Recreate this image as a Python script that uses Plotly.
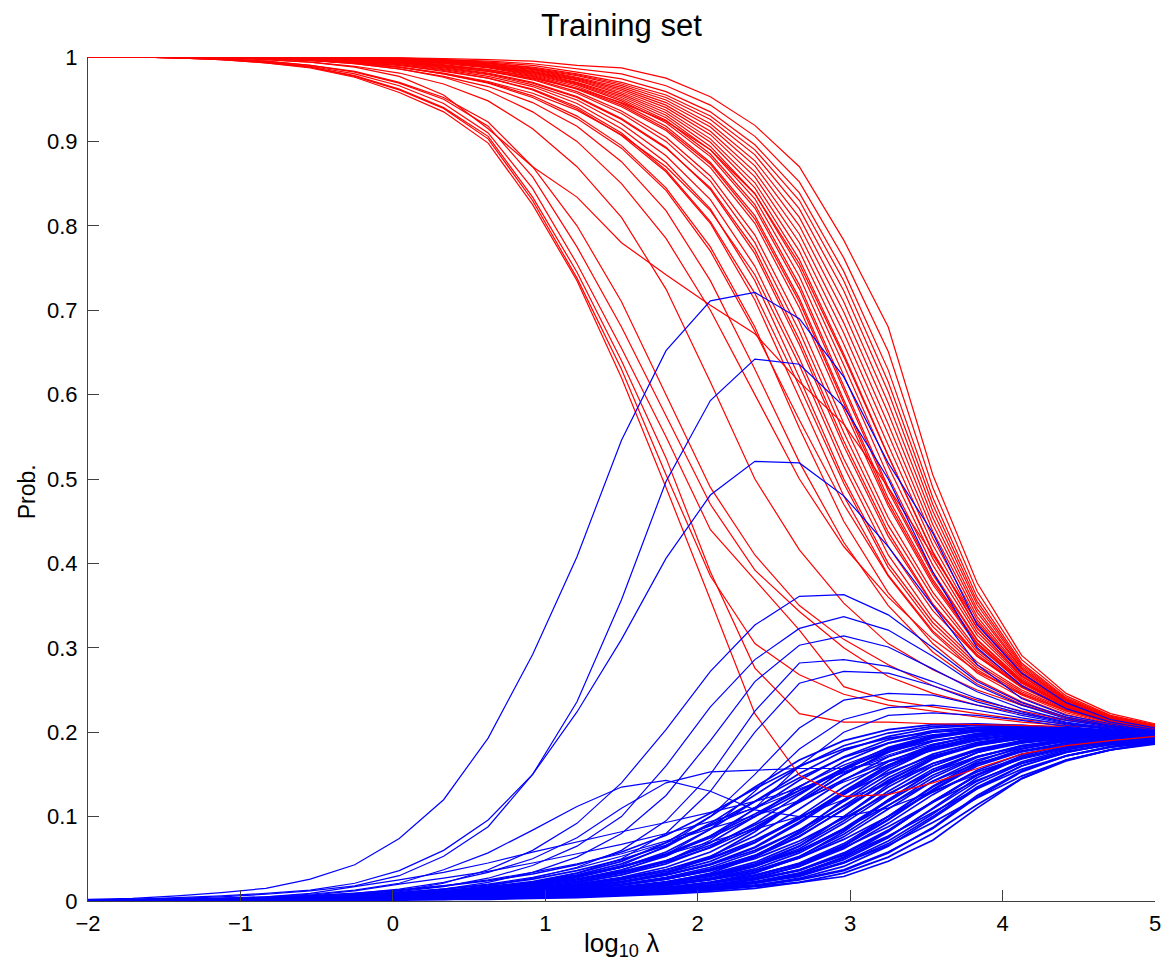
import plotly.graph_objects as go

# x grid: log10(lambda), 25 points from -2 to 5
x_vals = [-2.0, -1.708, -1.417, -1.125, -0.833, -0.542, -0.25, 0.042, 0.333, 0.625,
          0.917, 1.208, 1.5, 1.792, 2.083, 2.375, 2.667, 2.958, 3.25, 3.542,
          3.833, 4.125, 4.417, 4.708, 5.0]

x_ticks = [-2, -1, 0, 1, 2, 3, 4, 5]
x_ticktext = ["\u22122", "\u22121", "0", "1", "2", "3", "4", "5"]
y_ticks = [0, 0.1, 0.2, 0.3, 0.4, 0.5, 0.6, 0.7, 0.8, 0.9, 1]
y_ticktext = ["0", "0.1", "0.2", "0.3", "0.4", "0.5", "0.6", "0.7", "0.8", "0.9", "1"]

# ---- red: probability of the true class ----
red_early = [
    [1, 1, .999, .997, .993, .987, .976, .958, .935, .898, .825, .735, .62, .49, .357, .222, .149, .124, .126, .14, .157, .174, .184, .19, .195],
    [1, 1, .999, .997, .994, .988, .978, .962, .94, .906, .834, .745, .64, .525, .39, .276, .222, .212, .212, .21, .209, .208, .207, .206, .205],
    [1, 1, .999, .998, .994, .989, .98, .966, .945, .91, .844, .755, .655, .55, .44, .38, .321, .254, .238, .23, .222, .215, .21, .206, .204],
    [1, 1, .999, .998, .995, .99, .982, .969, .95, .918, .858, .775, .68, .575, .47, .392, .343, .3, .266, .246, .232, .222, .214, .208, .205],
    [1, 1, .999, .997, .993, .988, .977, .961, .939, .903, .83, .738, .63, .505, .385, .305, .268, .245, .232, .225, .218, .212, .208, .205, .203],
    [1, 1, .999, .998, .995, .99, .983, .97, .952, .923, .87, .8, .71, .6, .49, .41, .35, .31, .28, .255, .238, .225, .215, .209, .205],
]
red_mid = [
    [1, 1, 1, .999, .997, .994, .988, .977, .955, .915, .87, .834, .78, .742, .706, .672, .615, .565, .49, .41, .33, .27, .236, .216, .206],
    [1, 1, 1, .999, .997, .994, .989, .981, .968, .948, .915, .87, .81, .725, .615, .5, .416, .353, .305, .274, .25, .232, .218, .209, .204],
    [1, 1, 1, .999, .998, .996, .992, .986, .976, .96, .935, .9, .85, .785, .7, .6, .5, .42, .36, .31, .272, .245, .226, .213, .206],
    [1, 1, 1, .999, .998, .996, .992, .986, .977, .965, .946, .918, .876, .818, .735, .63, .52, .425, .35, .295, .257, .233, .217, .207, .202],
    [1, 1, 1, .999, .998, .996, .993, .988, .98, .97, .954, .93, .895, .845, .775, .68, .56, .45, .365, .305, .262, .236, .218, .208, .202],
    [1, 1, 1, .999, .998, .996, .993, .988, .98, .969, .952, .927, .892, .842, .77, .675, .57, .47, .385, .318, .27, .241, .221, .209, .203],
    [1, 1, 1, .999, .998, .997, .994, .99, .984, .975, .962, .941, .91, .866, .805, .72, .61, .495, .395, .325, .277, .246, .225, .211, .203],
    [1, 1, 1, .999, .998, .996, .993, .988, .981, .971, .957, .937, .908, .87, .818, .742, .635, .515, .41, .335, .283, .25, .227, .213, .204],
    [1, 1, 1, 1, .999, .998, .996, .992, .987, .98, .969, .952, .926, .892, .845, .772, .665, .545, .437, .352, .292, .254, .229, .213, .205],
    [1, 1, 1, 1, .999, .998, .997, .994, .99, .985, .977, .963, .943, .915, .873, .808, .71, .59, .472, .378, .305, .259, .231, .214, .205],
    [1, 1, 1, 1, .999, .998, .996, .993, .989, .983, .975, .963, .946, .924, .89, .838, .755, .645, .527, .413, .323, .267, .234, .215, .206],
]
red_bundle = [
    [1, 1, 1, .999, .998, .997, .994, .99, .983, .975, .961, .939, .907, .864, .803, .712, .596, .48, .386, .32, .274, .244, .223, .21, .203],
    [1, 1, 1, .999, .999, .997, .995, .991, .985, .977, .965, .945, .915, .875, .82, .735, .62, .5, .4, .33, .28, .248, .226, .212, .204],
    [1, 1, 1, .999, .999, .998, .995, .992, .986, .979, .967, .949, .921, .883, .831, .752, .643, .524, .42, .344, .29, .254, .23, .215, .206],
    [1, 1, 1, 1, .999, .998, .996, .993, .988, .981, .97, .953, .927, .893, .843, .767, .659, .539, .432, .351, .29, .253, .228, .213, .204],
    [1, 1, 1, 1, .999, .998, .997, .994, .989, .983, .973, .957, .933, .9, .853, .78, .675, .555, .445, .36, .295, .255, .229, .213, .205],
    [1, 1, 1, 1, .999, .998, .997, .995, .99, .984, .974, .959, .936, .905, .859, .789, .686, .566, .454, .366, .298, .256, .23, .213, .205],
    [1, 1, 1, 1, .999, .999, .997, .995, .991, .985, .976, .962, .941, .913, .869, .803, .703, .583, .468, .375, .303, .258, .231, .214, .205],
    [1, 1, 1, 1, .999, .999, .998, .995, .992, .987, .978, .965, .945, .918, .875, .812, .714, .594, .477, .381, .306, .26, .231, .214, .205],
    [1, 1, 1, 1, .999, .999, .998, .996, .993, .988, .979, .967, .948, .922, .882, .821, .725, .605, .486, .387, .309, .261, .232, .214, .205],
    [1, 1, 1, 1, .999, .999, .998, .996, .993, .988, .98, .968, .95, .925, .885, .825, .73, .61, .49, .39, .31, .262, .232, .214, .205],
    [1, 1, 1, 1, 1, .999, .998, .996, .993, .989, .981, .969, .952, .928, .89, .832, .74, .623, .503, .398, .315, .264, .233, .214, .205],
    [1, 1, 1, 1, 1, .999, .998, .997, .994, .989, .982, .97, .954, .931, .894, .838, .75, .635, .515, .406, .319, .266, .234, .215, .205],
    [1, 1, 1, 1, 1, .999, .998, .997, .994, .99, .982, .972, .956, .934, .899, .845, .76, .648, .528, .414, .324, .267, .234, .215, .206],
    [1, 1, 1, 1, 1, .999, .998, .997, .994, .99, .983, .973, .958, .937, .903, .851, .77, .66, .54, .422, .328, .269, .235, .216, .206],
    [1, 1, 1, 1, 1, .999, .998, .997, .995, .99, .984, .974, .96, .94, .908, .858, .78, .673, .553, .43, .333, .271, .236, .216, .206],
    [1, 1, 1, 1, 1, .999, .999, .997, .995, .991, .985, .975, .962, .943, .912, .864, .79, .685, .565, .438, .337, .273, .237, .216, .206],
    [1, 1, 1, 1, 1, .999, .999, .997, .995, .992, .986, .976, .964, .946, .917, .871, .8, .698, .578, .446, .342, .275, .238, .217, .206],
    [1, 1, 1, 1, 1, .999, .999, .998, .996, .992, .986, .978, .966, .949, .921, .877, .81, .71, .59, .454, .346, .276, .238, .217, .207],
    [1, 1, 1, 1, 1, .999, .999, .998, .996, .993, .987, .979, .968, .952, .926, .884, .82, .723, .603, .462, .351, .278, .239, .218, .207],
    [1, 1, 1, 1, 1, .999, .999, .998, .996, .993, .988, .98, .97, .955, .93, .89, .83, .735, .615, .47, .355, .28, .24, .218, .207],
    [1, 1, 1, 1, 1, 1, .999, .998, .997, .994, .99, .982, .974, .959, .935, .896, .839, .746, .629, .478, .36, .282, .241, .219, .208],
    [1, 1, 1, 1, 1, 1, .999, .999, .997, .995, .992, .986, .98, .966, .943, .906, .852, .762, .651, .49, .367, .286, .243, .22, .209],
    [1, 1, 1, 1, 1, 1, .999, .999, .998, .997, .995, .99, .987, .975, .953, .919, .87, .783, .68, .505, .377, .291, .246, .222, .21],
]

# ---- blue: probabilities of the other classes ----
blue_peaks = [
    [.002, .003, .006, .01, .015, .026, .043, .074, .12, .193, .292, .408, .546, .652, .711, .721, .69, .621, .519, .436, .327, .27, .235, .215, .205],
    [.001, .002, .004, .006, .009, .013, .021, .036, .06, .096, .15, .236, .357, .497, .593, .642, .636, .586, .5, .39, .3, .255, .228, .212, .203],
    [.001, .002, .003, .005, .008, .012, .018, .03, .053, .088, .15, .224, .31, .406, .481, .521, .519, .48, .42, .35, .28, .24, .22, .21, .2],
]
blue_mid = [
    [0, .001, .001, .002, .003, .005, .008, .012, .021, .037, .06, .092, .14, .203, .272, .327, .361, .363, .339, .3, .26, .235, .218, .208, .202],
    [0, .001, .001, .002, .003, .005, .007, .011, .017, .027, .042, .065, .1, .16, .23, .286, .323, .337, .321, .29, .255, .232, .216, .207, .201],
    [0, .001, .001, .002, .003, .004, .006, .009, .014, .022, .034, .052, .08, .125, .19, .26, .303, .314, .301, .275, .248, .228, .214, .206, .201],
    [0, .001, .001, .002, .002, .004, .006, .008, .012, .018, .027, .04, .06, .095, .15, .225, .282, .286, .278, .26, .24, .224, .212, .205, .2],
    [0, 0, .001, .002, .002, .003, .005, .007, .01, .015, .022, .033, .05, .08, .13, .2, .258, .272, .27, .255, .236, .222, .211, .204, .2],
    [0, 0, .001, .001, .002, .003, .004, .006, .009, .013, .019, .028, .042, .065, .1, .15, .205, .238, .246, .244, .232, .22, .21, .204, .2],
    [0, 0, .001, .001, .002, .003, .004, .005, .008, .011, .016, .024, .036, .055, .085, .13, .18, .215, .229, .232, .226, .217, .209, .203, .199],
    [0, 0, .001, .001, .002, .002, .003, .005, .007, .01, .014, .021, .031, .047, .072, .11, .16, .2, .22, .223, .22, .214, .207, .202, .198],
    [0, .001, .002, .003, .005, .008, .013, .021, .037, .057, .084, .112, .135, .143, .13, .108, .1, .1, .11, .13, .15, .168, .18, .188, .192],
    [0, .001, .002, .003, .004, .006, .009, .014, .022, .034, .05, .075, .11, .14, .153, .155, .157, .157, .165, .178, .19, .196, .198, .198, .197],
]
blue_shallow = [
    [0, .001, .002, .003, .005, .009, .017, .025, .034, .045, .058, .07, .082, .093, .105, .118, .133, .152, .171, .186, .196, .2, .2, .198, .196],
    [0, .001, .002, .003, .004, .007, .012, .02, .027, .035, .045, .056, .067, .08, .094, .11, .131, .153, .173, .189, .199, .203, .203, .2, .197],
    [0, .001, .001, .002, .003, .005, .008, .013, .018, .025, .034, .044, .056, .071, .089, .111, .136, .161, .181, .195, .203, .205, .204, .201, .198],
    [0, .001, .001, .002, .003, .004, .006, .01, .014, .02, .028, .039, .053, .069, .086, .101, .119, .141, .161, .179, .191, .198, .2, .199, .197],
    [0, 0, .001, .002, .003, .004, .005, .007, .01, .014, .02, .028, .04, .055, .07, .085, .1, .12, .14, .16, .178, .19, .196, .198, .197],
]
blue_bundle = [
    [0, .001, .001, .002, .003, .004, .006, .009, .012, .017, .023, .033, .047, .069, .1, .135, .167, .19, .203, .209, .21, .208, .205, .202, .198],
    [0, .001, .001, .002, .003, .004, .006, .009, .011, .016, .022, .031, .044, .064, .092, .126, .159, .184, .199, .207, .209, .208, .205, .202, .198],
    [0, .001, .001, .002, .003, .004, .006, .008, .011, .015, .02, .028, .04, .058, .085, .118, .151, .178, .195, .205, .208, .207, .205, .202, .198],
    [0, .001, .001, .002, .002, .003, .005, .008, .01, .013, .019, .026, .037, .053, .077, .109, .143, .171, .191, .202, .206, .207, .204, .201, .198],
    [0, .001, .001, .002, .002, .003, .005, .007, .009, .012, .017, .023, .033, .047, .069, .1, .135, .165, .187, .2, .205, .206, .204, .201, .198],
    [0, .001, .001, .002, .002, .003, .005, .007, .009, .011, .016, .022, .031, .044, .064, .092, .126, .158, .182, .196, .203, .205, .203, .201, .198],
    [0, .001, .001, .002, .002, .003, .004, .006, .008, .011, .015, .02, .028, .04, .058, .085, .118, .15, .176, .193, .201, .203, .202, .2, .198],
    [0, 0, .001, .001, .002, .002, .004, .006, .008, .01, .013, .019, .026, .037, .053, .077, .109, .143, .171, .189, .198, .202, .201, .2, .197],
    [0, 0, .001, .001, .002, .002, .003, .005, .007, .009, .012, .017, .023, .033, .047, .069, .1, .135, .165, .185, .196, .2, .2, .199, .197],
    [0, 0, .001, .001, .002, .002, .003, .005, .007, .009, .011, .016, .022, .031, .043, .063, .092, .126, .158, .18, .192, .198, .199, .198, .197],
    [0, 0, .001, .001, .002, .002, .003, .005, .006, .008, .011, .015, .02, .028, .04, .058, .084, .118, .15, .174, .188, .195, .198, .198, .197],
    [0, 0, .001, .001, .001, .002, .003, .004, .006, .008, .01, .013, .019, .026, .036, .052, .076, .109, .143, .169, .184, .193, .196, .197, .196],
    [0, 0, .001, .001, .001, .002, .003, .004, .005, .007, .009, .012, .017, .023, .032, .046, .068, .1, .135, .163, .18, .19, .195, .196, .196],
    [0, 0, .001, .001, .001, .002, .003, .004, .005, .007, .009, .011, .016, .021, .03, .042, .062, .092, .126, .156, .176, .187, .193, .195, .196],
    [0, 0, .001, .001, .001, .002, .003, .004, .005, .006, .008, .011, .015, .02, .027, .038, .057, .084, .118, .149, .171, .184, .191, .194, .195],
    [0, 0, .001, .001, .001, .002, .002, .003, .004, .006, .008, .01, .013, .018, .025, .034, .051, .076, .109, .142, .167, .181, .189, .193, .195],
    [0, 0, .001, .001, .001, .002, .002, .003, .004, .005, .007, .009, .012, .016, .022, .03, .045, .068, .1, .135, .162, .178, .187, .192, .194],
    [0, 0, .001, .001, .001, .002, .002, .003, .004, .005, .007, .009, .011, .015, .021, .028, .041, .062, .092, .126, .155, .174, .184, .191, .193],
    [0, 0, .001, .001, .001, .002, .002, .003, .004, .005, .006, .008, .011, .014, .019, .026, .037, .057, .084, .118, .149, .169, .182, .189, .193],
    [0, 0, 0, .001, .001, .001, .002, .002, .003, .004, .006, .008, .01, .013, .018, .023, .033, .051, .076, .109, .142, .165, .179, .188, .192],
    [0, 0, 0, .001, .001, .001, .002, .002, .003, .004, .005, .007, .009, .012, .016, .021, .029, .045, .068, .1, .135, .16, .176, .186, .191],
    [0, 0, 0, .001, .001, .001, .002, .002, .003, .004, .005, .007, .009, .011, .015, .019, .026, .037, .058, .086, .123, .153, .172, .183, .19],
    [0, 0, 0, .001, .001, .001, .002, .002, .003, .004, .005, .006, .008, .01, .013, .017, .022, .029, .047, .072, .11, .145, .167, .179, .188],
]
blue_bundle_flat = [
    [0, .001, .002, .003, .004, .006, .009, .013, .018, .024, .032, .043, .058, .078, .104, .133, .16, .18, .193, .2, .203, .203, .201, .199, .196],
    [0, .001, .001, .002, .003, .005, .007, .01, .014, .019, .026, .036, .049, .066, .09, .118, .146, .17, .187, .197, .201, .202, .201, .199, .196],
    [0, .001, .001, .002, .003, .004, .006, .009, .012, .016, .022, .03, .041, .056, .077, .103, .131, .157, .177, .19, .197, .2, .2, .198, .196],
    [0, .001, .001, .002, .003, .004, .005, .008, .01, .014, .019, .026, .035, .048, .066, .09, .117, .144, .166, .182, .192, .197, .198, .197, .195],
    [0, 0, .001, .001, .002, .003, .004, .006, .008, .011, .015, .02, .027, .037, .051, .072, .098, .127, .152, .172, .185, .192, .195, .195, .194],
    [0, 0, .001, .001, .002, .002, .003, .005, .007, .009, .012, .017, .023, .031, .043, .06, .084, .112, .14, .163, .178, .188, .192, .193, .193],
    [0, 0, .001, .001, .001, .002, .003, .004, .006, .008, .011, .014, .019, .026, .036, .05, .071, .098, .127, .153, .171, .183, .189, .191, .192],
    [0, 0, .001, .001, .001, .002, .003, .004, .005, .007, .009, .012, .016, .022, .03, .042, .06, .085, .114, .142, .163, .177, .185, .189, .191],
    [0, 0, .001, .001, .001, .002, .002, .003, .004, .006, .008, .01, .014, .019, .026, .036, .051, .073, .1, .129, .153, .17, .181, .187, .19],
    [0, 0, 0, .001, .001, .001, .002, .003, .004, .005, .007, .009, .012, .016, .022, .031, .044, .063, .088, .117, .143, .163, .177, .185, .189],
    [0, 0, 0, .001, .001, .001, .002, .002, .003, .004, .006, .008, .01, .014, .019, .026, .037, .054, .077, .105, .133, .156, .172, .182, .188],
    [0, 0, 0, .001, .001, .001, .002, .002, .003, .004, .005, .007, .009, .012, .016, .022, .031, .045, .066, .093, .122, .148, .167, .179, .186],
]
blue_bundle_steep = [
    [0, 0, .001, .001, .002, .002, .003, .004, .006, .008, .011, .015, .022, .033, .052, .082, .12, .155, .18, .195, .203, .206, .205, .202, .199],
    [0, 0, 0, .001, .001, .002, .002, .003, .004, .006, .008, .011, .015, .022, .033, .052, .082, .12, .155, .18, .195, .202, .203, .201, .198],
    [0, 0, 0, .001, .001, .001, .002, .003, .004, .005, .007, .009, .013, .018, .027, .041, .065, .1, .138, .168, .187, .197, .2, .199, .197],
    [0, 0, 0, .001, .001, .001, .002, .002, .003, .004, .006, .008, .011, .015, .022, .033, .052, .082, .12, .153, .176, .19, .196, .197, .196],
    [0, 0, 0, .001, .001, .001, .002, .002, .003, .004, .005, .007, .009, .013, .018, .027, .041, .065, .1, .136, .165, .183, .192, .195, .195],
    [0, 0, 0, 0, .001, .001, .001, .002, .002, .003, .004, .006, .008, .011, .015, .022, .033, .052, .082, .118, .15, .172, .185, .191, .193],
    [0, 0, 0, 0, .001, .001, .001, .002, .002, .003, .004, .005, .007, .009, .013, .018, .027, .041, .065, .098, .133, .16, .176, .186, .19],
    [0, 0, 0, 0, .001, .001, .001, .001, .002, .002, .003, .004, .006, .008, .011, .015, .022, .033, .052, .08, .114, .145, .166, .179, .187],
]
blue_bundle_extra = [
    [0, 0, .001, .001, .002, .002, .003, .005, .007, .009, .012, .016, .022, .031, .044, .064, .094, .128, .16, .182, .194, .199, .2, .199, .197],
    [0, 0, .001, .001, .001, .002, .003, .004, .006, .008, .01, .014, .019, .026, .037, .054, .08, .113, .146, .171, .186, .194, .197, .197, .196],
    [0, 0, .001, .001, .001, .002, .003, .004, .005, .007, .009, .012, .016, .022, .031, .044, .065, .095, .13, .16, .179, .189, .194, .195, .195],
    [0, 0, .001, .001, .001, .002, .002, .003, .004, .006, .008, .01, .014, .019, .026, .036, .053, .079, .113, .146, .17, .184, .191, .194, .194],
    [0, 0, .001, .001, .001, .001, .002, .003, .004, .005, .007, .009, .012, .016, .022, .03, .043, .065, .096, .131, .16, .177, .187, .191, .193],
    [0, 0, 0, .001, .001, .001, .002, .002, .003, .004, .006, .008, .01, .013, .018, .025, .036, .055, .083, .117, .149, .17, .182, .189, .192],
    [0, 0, 0, .001, .001, .001, .002, .002, .003, .004, .005, .007, .009, .012, .016, .021, .03, .046, .071, .103, .139, .163, .177, .186, .19],
    [0, 0, 0, .001, .001, .001, .001, .002, .003, .003, .004, .006, .008, .01, .014, .018, .025, .036, .057, .087, .125, .154, .172, .183, .189],
    [0, .001, .001, .002, .002, .003, .005, .007, .01, .013, .018, .025, .034, .046, .063, .087, .118, .15, .177, .194, .203, .205, .204, .201, .198],
    [0, .001, .001, .002, .003, .004, .006, .008, .011, .015, .021, .029, .04, .055, .075, .1, .128, .156, .179, .194, .202, .205, .204, .201, .198],
    [0, 0, .001, .001, .002, .002, .004, .005, .007, .01, .013, .018, .025, .035, .05, .07, .097, .13, .161, .184, .197, .203, .203, .201, .198],
    [0, 0, .001, .001, .001, .002, .003, .004, .006, .008, .01, .014, .019, .027, .038, .054, .077, .108, .142, .169, .186, .196, .199, .199, .197],
    [0, 0, .001, .001, .001, .002, .002, .003, .005, .006, .008, .011, .015, .021, .029, .041, .059, .086, .12, .153, .176, .19, .196, .197, .196],
    [0, 0, 0, .001, .001, .001, .002, .003, .004, .005, .006, .008, .011, .015, .021, .03, .044, .066, .097, .132, .162, .18, .19, .194, .194],
    [0, 0, 0, .001, .001, .001, .002, .002, .003, .004, .005, .007, .009, .012, .016, .022, .032, .049, .075, .11, .146, .17, .183, .19, .192],
]

RED = "#ff0000"
BLUE = "#0000ff"

fig = go.Figure()


def add_lines(rows, color, width):
    for row in rows:
        fig.add_trace(go.Scatter(x=x_vals, y=row, mode="lines",
                                 line=dict(color=color, width=width),
                                 hoverinfo="skip", showlegend=False))


add_lines(blue_bundle, BLUE, 1.7)
add_lines(blue_bundle_flat, BLUE, 1.7)
add_lines(blue_bundle_steep, BLUE, 1.7)
add_lines(blue_bundle_extra, BLUE, 1.7)
add_lines(blue_shallow, BLUE, 1.2)
add_lines(red_early, RED, 1.2)
add_lines(red_mid, RED, 1.2)
add_lines(red_bundle, RED, 1.2)
add_lines(blue_mid, BLUE, 1.2)
add_lines(blue_peaks, BLUE, 1.2)

AX = "#404040"
FONT = "Liberation Sans, Arial, Helvetica, sans-serif"

fig.update_layout(
    width=1173, height=974,
    margin=dict(l=88, r=14, t=57, b=73),
    paper_bgcolor="white", plot_bgcolor="white",
    font=dict(family=FONT, size=22, color="black"),
    showlegend=False,
    xaxis=dict(range=[-2, 5], tickvals=x_ticks, ticktext=x_ticktext,
               ticks="inside", ticklen=11, tickwidth=1, tickcolor=AX,
               showline=True, linecolor=AX, linewidth=1, mirror=False,
               showgrid=False, zeroline=False, ticklabelstandoff=3,
               tickfont=dict(size=22, color="black")),
    yaxis=dict(range=[0, 1], tickvals=y_ticks, ticktext=y_ticktext,
               ticks="inside", ticklen=11, tickwidth=1, tickcolor=AX,
               showline=True, linecolor=AX, linewidth=1, mirror=False,
               showgrid=False, zeroline=False, ticklabelstandoff=5,
               tickfont=dict(size=22, color="black")),
    annotations=[
        dict(text="Training set", xref="paper", yref="paper", x=0.5, y=(901 - 25) / 844,
             xanchor="center", yanchor="middle", showarrow=False,
             font=dict(size=31, color="black", family=FONT)),
        dict(text="log<sub>10</sub> \u03bb", xref="paper", yref="paper", x=0.5, y=(901 - 944) / 844,
             xanchor="center", yanchor="middle", showarrow=False,
             font=dict(size=26, color="black", family=FONT)),
        dict(text="Prob.", xref="paper", yref="paper", x=(27 - 88) / 1071, y=(901 - 492) / 844,
             xanchor="center", yanchor="middle", showarrow=False, textangle=-90,
             font=dict(size=23, color="black", family=FONT)),
    ],
)

fig.write_html("out.html")
